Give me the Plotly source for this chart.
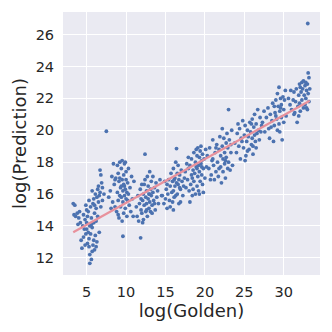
import plotly.graph_objects as go

# points, grouped by the vertical bands of log(Golden)
band_a = [(3.3,15.4),(3.5,15.3),(3.4,14.7),(3.6,14.6),(3.8,14.8),(4.0,14.5),(4.2,14.2),(4.3,13.1),(4.4,12.6),
          (4.5,14.0),(4.6,14.7),(4.7,13.8),(4.8,14.4),(4.9,13.5),(5.0,14.2),(5.0,15.0),(5.1,12.9),(5.1,14.6),
          (5.2,13.6),(5.2,14.9),(5.3,12.7),(5.3,13.2),(5.4,14.0),(5.4,11.65),(5.5,15.2),(5.5,13.5),(5.6,11.9),
          (5.6,14.5),(5.7,12.4),(5.7,13.9),(5.8,15.4),(5.8,12.8),(5.9,14.2),(5.9,15.7),(6.0,12.5),(6.0,14.8),
          (6.1,16.0),(6.1,13.4),(6.2,15.1),(6.2,14.3),(6.3,15.8),(6.3,13.0),(6.4,16.3),(6.4,14.6),(6.5,15.5),
          (6.5,16.5),(6.6,15.9),(6.6,13.6),(6.7,17.5),(6.7,16.1),(6.8,17.2),(6.8,15.2),(6.9,16.7),(7.0,15.6),
          (7.0,16.4),(7.2,16.0),(7.5,19.94),(4.8,12.8),(5.0,13.8),(5.6,14.1),(5.3,15.6),(4.9,15.3),(6.0,15.3),
          (6.2,12.7),(5.9,13.1),(4.6,13.3),(5.4,12.2),(3.9,14.1),(4.1,14.9),(5.7,16.2)]
band_b = [(7.8,15.8),(8.0,16.2),(8.2,17.1),(8.3,15.5),(8.4,17.9),(8.5,16.6),(8.6,15.2),(8.7,17.0),(8.8,14.9),
          (8.9,17.8),(8.9,16.1),(9.0,15.6),(9.0,17.3),(9.1,14.5),(9.1,16.8),(9.2,15.9),(9.2,18.0),(9.3,16.4),
          (9.3,15.2),(9.4,17.6),(9.4,15.8),(9.5,16.9),(9.5,14.3),(9.5,18.1),(9.6,13.35),(9.6,16.2),(9.6,15.5),
          (9.7,17.2),(9.7,16.6),(9.7,14.8),(9.8,15.9),(9.8,17.9),(9.9,16.3),(9.9,15.1),(10.0,16.9),(10.0,15.7),
          (10.0,17.4),(10.1,16.1),(10.1,14.6),(10.2,15.6),(10.2,16.7),(10.3,17.6),(10.4,15.3),(10.5,16.4),
          (10.6,14.9),(10.8,15.7),(10.9,14.6),(11.0,16.8),(8.6,16.9),(9.4,16.5),(9.8,16.5),(9.2,17.0),
          (10.3,16.0),(9.0,14.7),(8.1,15.1),(9.9,18.0),(10.7,17.1)]
band_c = [(11.3,15.2),(11.4,14.6),(11.5,15.9),(11.6,14.3),(11.7,15.4),(11.8,16.3),(11.85,13.25),(11.9,15.0),
          (12.0,16.6),(12.0,14.8),(12.1,15.6),(12.2,16.0),(12.2,14.4),(12.3,15.3),(12.4,18.5),(12.4,16.9),
          (12.5,15.8),(12.5,14.9),(12.6,16.2),(12.6,15.4),(12.7,17.1),(12.7,14.6),(12.8,15.7),(12.8,16.5),
          (12.9,15.1),(12.9,16.0),(13.0,17.4),(13.0,15.5),(13.1,14.9),(13.1,16.3),(13.2,15.9),(13.2,16.8),
          (13.3,15.3),(13.4,16.1),(13.4,17.1),(13.5,15.6),(13.6,16.4),(13.7,15.0),(13.8,16.7),(13.9,15.8),
          (14.0,16.2),(14.1,15.4),(14.3,16.9),(14.5,15.9),(11.9,15.7),(12.3,16.6),(12.6,15.0),(13.0,16.0),
          (13.3,14.8),(12.1,14.2),(13.6,15.4)]
band_d = [(14.6,15.9),(14.8,15.4),(14.9,16.8),(15.0,15.7),(15.1,16.3),(15.2,15.1),(15.3,16.0),(15.4,16.9),
          (15.5,15.6),(15.6,16.5),(15.7,17.3),(15.8,16.1),(15.9,15.5),(15.9,16.8),(16.0,17.6),(16.0,16.2),
          (16.1,15.8),(16.2,17.0),(16.2,16.5),(16.3,18.0),(16.3,15.9),(16.4,18.85),(16.4,16.7),(16.5,17.3),
          (16.5,16.0),(16.6,16.6),(16.6,17.8),(16.7,15.4),(16.7,16.9),(16.8,17.2),(16.9,16.3),(16.9,15.5),
          (17.0,17.5),(17.1,16.8),(17.2,15.9),(17.3,16.5),(15.6,15.2),(16.1,16.9),(16.8,16.4),(15.2,16.6),
          (17.4,17.0),(16.0,15.0)]
band_e = [(17.5,17.4),(17.6,16.4),(17.7,17.9),(17.8,16.9),(17.9,17.6),(18.0,16.2),(18.1,15.5),(18.1,17.8),
          (18.2,16.6),(18.3,18.2),(18.3,17.2),(18.4,15.9),(18.5,17.5),(18.6,16.8),(18.6,18.6),(18.7,17.3),
          (18.8,16.0),(18.8,18.0),(18.9,17.7),(19.0,16.5),(19.0,18.4),(19.1,17.1),(19.1,18.9),(19.2,17.8),
          (19.2,16.2),(19.3,18.3),(19.3,17.4),(19.4,16.8),(19.4,18.7),(19.5,17.9),(19.5,19.0),(19.6,17.2),
          (19.6,18.1),(19.7,16.6),(19.7,18.5),(19.8,17.6),(19.9,18.2),(20.0,17.0),(20.1,18.8),(20.2,17.7),
          (18.5,16.3),(19.0,17.6),(19.8,16.1),(18.9,18.8),(19.3,16.0),(17.9,18.3),(19.6,17.7),(18.4,17.0)]
band_f = [(20.3,18.4),(20.5,17.6),(20.6,18.9),(20.8,17.2),(20.9,18.1),(21.0,19.4),(21.1,17.8),(21.2,16.9),
          (21.3,18.6),(21.4,17.4),(21.5,19.1),(21.6,18.0),(21.7,17.1),(21.8,18.8),(21.9,19.6),(22.0,17.7),
          (22.0,18.4),(22.1,16.7),(22.2,19.0),(22.3,18.2),(22.3,17.4),(22.4,19.5),(22.5,18.6),(22.5,17.9),
          (22.6,17.0),(22.7,19.2),(22.7,18.3),(22.8,19.8),(22.9,17.6),(22.9,18.9),(23.0,21.3),(23.0,18.0),
          (23.1,19.4),(23.2,17.5),(23.3,18.6),(23.4,20.0),(23.5,17.8),(21.0,18.2),(21.8,17.6),(22.6,18.1),
          (20.7,16.9),(23.3,19.1),(22.2,20.1),(21.4,18.9)]
band_g = [(23.8,19.2),(24.0,18.6),(24.1,19.8),(24.3,19.0),(24.4,20.1),(24.5,18.2),(24.6,19.5),(24.8,20.6),
          (24.9,18.9),(25.0,19.7),(25.1,20.3),(25.2,18.4),(25.3,19.3),(25.4,20.0),(25.5,19.6),(25.6,18.8),
          (25.7,20.5),(25.8,19.9),(25.9,19.1),(26.0,20.7),(26.0,19.5),(26.1,18.5),(26.2,20.2),(26.3,19.7),
          (26.3,21.0),(26.4,19.3),(26.5,20.4),(26.6,19.8),(26.7,21.3),(26.8,20.0),(26.9,19.4),(27.0,20.8),
          (27.1,19.9),(27.2,20.3),(25.1,18.1),(26.1,19.0),(24.7,19.3),(25.9,20.4),(26.5,18.9),(24.2,20.4),
          (25.4,18.7)]
band_h = [(27.3,20.5),(27.5,21.2),(27.6,19.9),(27.8,20.8),(28.0,21.4),(28.1,20.1),(28.2,19.5),(28.3,21.0),
          (28.5,20.6),(28.6,21.7),(28.7,19.3),(28.8,20.3),(28.9,21.1),(29.0,21.9),(29.1,20.7),(29.2,22.3),
          (29.2,20.0),(29.3,21.5),(29.4,22.7),(29.4,20.4),(29.5,21.2),(29.5,19.9),(29.6,22.0),(29.7,20.8),
          (29.7,21.6),(29.8,19.4),(29.9,22.1),(30.0,20.5),(30.0,21.3),(30.1,21.9),(30.2,22.5),(30.3,20.9),
          (28.4,20.2),(29.0,20.9),(29.6,21.4),(28.8,21.5)]
band_i = [(30.6,22.0),(30.8,21.6),(30.9,22.5),(31.0,21.3),(31.2,21.9),(31.3,22.4),(31.4,21.1),(31.5,21.8),
          (31.6,22.6),(31.7,20.5),(31.8,21.5),(31.9,22.2),(32.0,22.9),(32.0,21.7),(32.1,21.2),(32.2,22.4),
          (32.3,23.0),(32.3,21.9),(32.4,22.6),(32.5,21.4),(32.5,23.1),(32.6,22.2),(32.7,22.8),(32.7,21.6),
          (32.8,23.0),(32.8,22.0),(32.9,22.5),(33.0,21.3),(33.0,22.9),(33.05,26.7),(33.1,23.6),(33.1,22.3),
          (33.2,23.3),(33.2,21.8),(33.3,22.6),(32.1,22.7),(31.3,21.0),(32.9,21.4),(31.9,20.9)]

# fitted line, as it appears in the picture
fit_golden = [3.3, 33.3]
fit_pred = [13.6, 21.85]

bands = [band_a, band_b, band_c, band_d, band_e, band_f, band_g, band_h, band_i]
golden = [p[0] for b in bands for p in b]
pred = [p[1] for b in bands for p in b]

fig = go.Figure()
fig.add_trace(go.Scatter(x=golden, y=pred, mode="markers",
                         marker=dict(color="#4c72b0", size=3.8, line=dict(width=0))))
fig.add_trace(go.Scatter(x=fit_golden, y=fit_pred, mode="lines",
                         line=dict(color="#e8919c", width=2.2)))

# the page body has an 8px margin, so the figure is a bit smaller than the window
fig.update_layout(
    width=324, height=324,
    margin=dict(l=55, r=12, t=4, b=57),
    paper_bgcolor="white", plot_bgcolor="#eaeaf2",
    showlegend=False,
    font=dict(family="DejaVu Sans", size=14.5, color="#262626"),
)
fig.update_xaxes(range=[2.0, 34.6], tickvals=[5, 10, 15, 20, 25, 30],
                 gridcolor="white", gridwidth=1, zeroline=False, showline=False,
                 ticks="outside", ticklen=4, tickcolor="rgba(0,0,0,0)",
                 title=dict(text="log(Golden)", font=dict(size=18), standoff=2))
fig.update_yaxes(range=[10.92, 27.42], tickvals=[12, 14, 16, 18, 20, 22, 24, 26],
                 gridcolor="white", gridwidth=1, zeroline=False, showline=False,
                 ticks="outside", ticklen=5, tickcolor="rgba(0,0,0,0)",
                 title=dict(text="log(Prediction)", font=dict(size=18), standoff=4))

fig.write_html("out.html")
